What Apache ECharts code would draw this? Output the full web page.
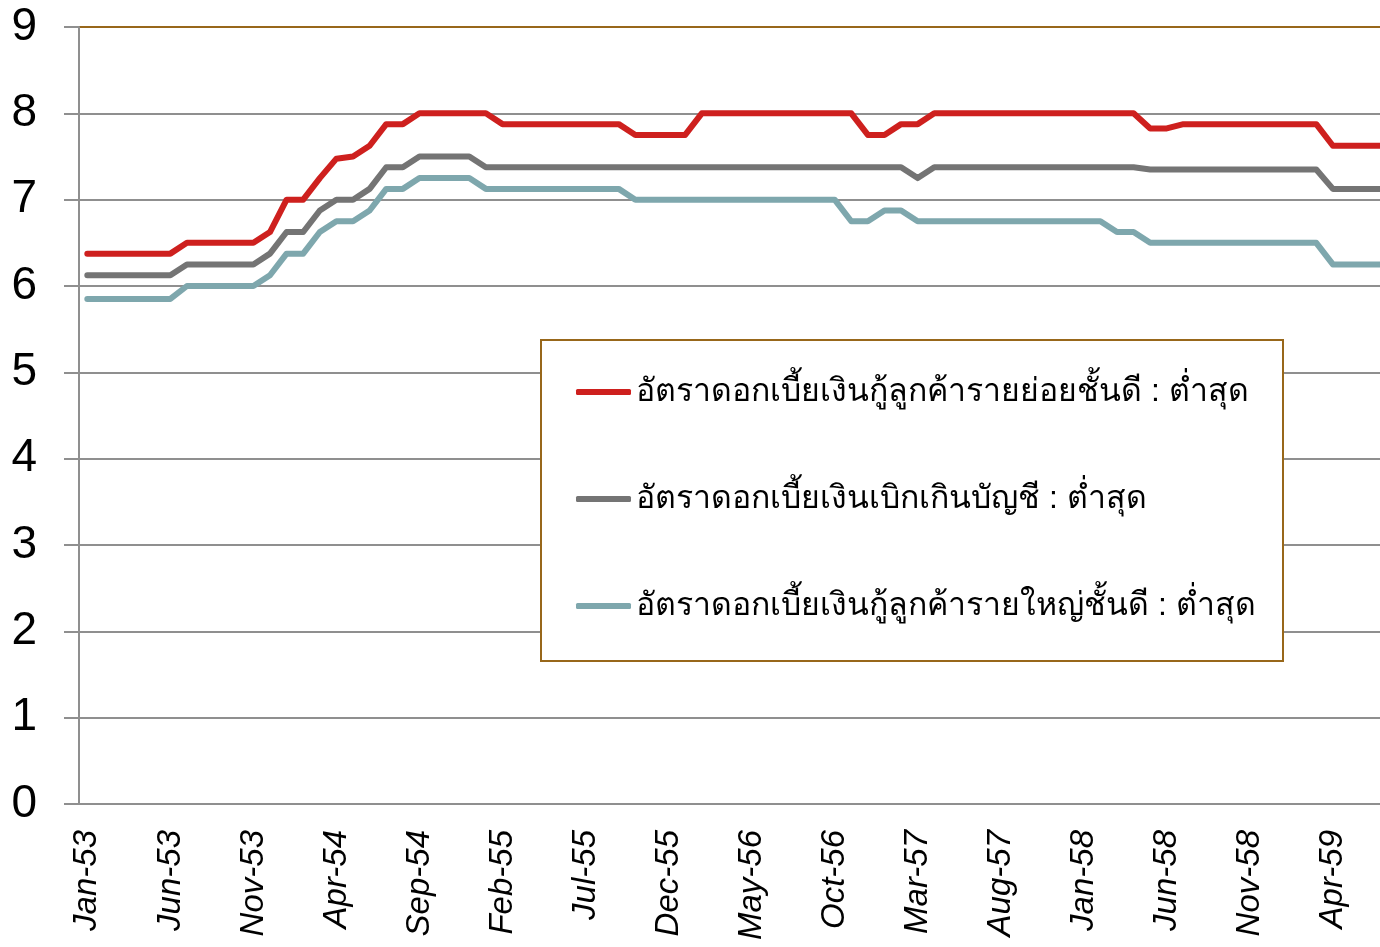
<!DOCTYPE html>
<html>
<head>
<meta charset="utf-8">
<script src="https://cdn.jsdelivr.net/npm/echarts@6/dist/echarts.min.js"></script>
<style>
html,body{margin:0;padding:0;background:#fff;overflow:hidden;}
#chart{width:1391px;height:947px;}
</style>
</head>
<body>
<div id="chart"></div>
<script>
const categories = [
 'Jan-53','Feb-53','Mar-53','Apr-53','May-53','Jun-53','Jul-53','Aug-53','Sep-53','Oct-53','Nov-53','Dec-53',
 'Jan-54','Feb-54','Mar-54','Apr-54','May-54','Jun-54','Jul-54','Aug-54','Sep-54','Oct-54','Nov-54','Dec-54',
 'Jan-55','Feb-55','Mar-55','Apr-55','May-55','Jun-55','Jul-55','Aug-55','Sep-55','Oct-55','Nov-55','Dec-55',
 'Jan-56','Feb-56','Mar-56','Apr-56','May-56','Jun-56','Jul-56','Aug-56','Sep-56','Oct-56','Nov-56','Dec-56',
 'Jan-57','Feb-57','Mar-57','Apr-57','May-57','Jun-57','Jul-57','Aug-57','Sep-57','Oct-57','Nov-57','Dec-57',
 'Jan-58','Feb-58','Mar-58','Apr-58','May-58','Jun-58','Jul-58','Aug-58','Sep-58','Oct-58','Nov-58','Dec-58',
 'Jan-59','Feb-59','Mar-59','Apr-59','May-59','Jun-59','Jul-59'
];

const seriesNames = [
 'อัตราดอกเบี้ยเงินกู้ลูกค้ารายย่อยชั้นดี : ต่ำสุด',
 'อัตราดอกเบี้ยเงินเบิกเกินบัญชี : ต่ำสุด',
 'อัตราดอกเบี้ยเงินกู้ลูกค้ารายใหญ่ชั้นดี : ต่ำสุด'
];

const mrr = [
 6.375,6.375,6.375,6.375,6.375,6.375,6.5,6.5,6.5,6.5,6.5,6.625,
 7.0,7.0,7.25,7.475,7.5,7.625,7.875,7.875,8.0,8.0,8.0,8.0,
 8.0,7.875,7.875,7.875,7.875,7.875,7.875,7.875,7.875,7.75,7.75,7.75,
 7.75,8.0,8.0,8.0,8.0,8.0,8.0,8.0,8.0,8.0,8.0,7.75,
 7.75,7.875,7.875,8.0,8.0,8.0,8.0,8.0,8.0,8.0,8.0,8.0,
 8.0,8.0,8.0,8.0,7.825,7.825,7.875,7.875,7.875,7.875,7.875,7.875,
 7.875,7.875,7.875,7.625,7.625,7.625,7.625
];

const mor = [
 6.125,6.125,6.125,6.125,6.125,6.125,6.25,6.25,6.25,6.25,6.25,6.375,
 6.625,6.625,6.875,7.0,7.0,7.125,7.375,7.375,7.5,7.5,7.5,7.5,
 7.375,7.375,7.375,7.375,7.375,7.375,7.375,7.375,7.375,7.375,7.375,7.375,
 7.375,7.375,7.375,7.375,7.375,7.375,7.375,7.375,7.375,7.375,7.375,7.375,
 7.375,7.375,7.25,7.375,7.375,7.375,7.375,7.375,7.375,7.375,7.375,7.375,
 7.375,7.375,7.375,7.375,7.35,7.35,7.35,7.35,7.35,7.35,7.35,7.35,
 7.35,7.35,7.35,7.125,7.125,7.125,7.125
];

const mlr = [
 5.85,5.85,5.85,5.85,5.85,5.85,6.0,6.0,6.0,6.0,6.0,6.125,
 6.375,6.375,6.625,6.75,6.75,6.875,7.125,7.125,7.25,7.25,7.25,7.25,
 7.125,7.125,7.125,7.125,7.125,7.125,7.125,7.125,7.125,7.0,7.0,7.0,
 7.0,7.0,7.0,7.0,7.0,7.0,7.0,7.0,7.0,7.0,6.75,6.75,
 6.875,6.875,6.75,6.75,6.75,6.75,6.75,6.75,6.75,6.75,6.75,6.75,
 6.75,6.75,6.625,6.625,6.5,6.5,6.5,6.5,6.5,6.5,6.5,6.5,
 6.5,6.5,6.5,6.25,6.25,6.25,6.25
];

const colors = ['#ce201e', '#747474', '#7ea7ad'];
const gold = '#98671a';
const gridGray = '#8f8f8f';

const chart = echarts.init(document.getElementById('chart'), null, {renderer: 'canvas'});

const seriesData = [mrr, mor, mlr];

chart.setOption({
  animation: false,
  backgroundColor: '#ffffff',
  grid: {
    left: 79, top: 27, right: 0, bottom: 143,
    show: true, borderColor: gold, borderWidth: 2, backgroundColor: 'transparent'
  },
  graphic: [{
    type: 'rect', z: 3,
    shape: {x: 541, y: 340, width: 742, height: 321},
    style: {fill: '#ffffff', stroke: gold, lineWidth: 2}
  }],
  legend: {
    z: 5,
    orient: 'vertical',
    left: 576, top: 374,
    padding: 0,
    icon: 'roundRect',
    itemWidth: 55, itemHeight: 6, itemGap: 71,
    itemStyle: {borderWidth: 0},
    textStyle: {fontSize: 32, lineHeight: 36, color: '#000'},
    data: seriesNames
  },
  xAxis: {
    type: 'category',
    data: categories,
    boundaryGap: true,
    axisLine: {lineStyle: {color: gridGray, width: 2}},
    axisTick: {interval: 4, length: 14, lineStyle: {color: gridGray, width: 2}},
    axisLabel: {
      interval: 4, rotate: 90, margin: 26,
      fontSize: 33, fontStyle: 'italic', color: '#000',
      fontFamily: 'Liberation Sans, Arial, sans-serif'
    },
    splitLine: {show: false}
  },
  yAxis: {
    type: 'value', min: 0, max: 9, interval: 1,
    axisLine: {show: true, lineStyle: {color: gridGray, width: 2}},
    axisTick: {show: true, inside: false, length: 15, lineStyle: {color: gridGray, width: 2}},
    axisLabel: {margin: 42, fontSize: 46, color: '#000', fontFamily: 'Liberation Sans, Arial, sans-serif'},
    splitLine: {show: true, showMaxLine: false, lineStyle: {color: gridGray, width: 2}}
  },
  series: seriesData.map((d, i) => ({
    name: seriesNames[i],
    type: 'line',
    data: d,
    symbol: 'none',
    z: 2,
    lineStyle: {color: colors[i], width: 6, cap: 'round', join: 'round'},
    itemStyle: {color: colors[i]}
  }))
});
</script>
</body>
</html>
